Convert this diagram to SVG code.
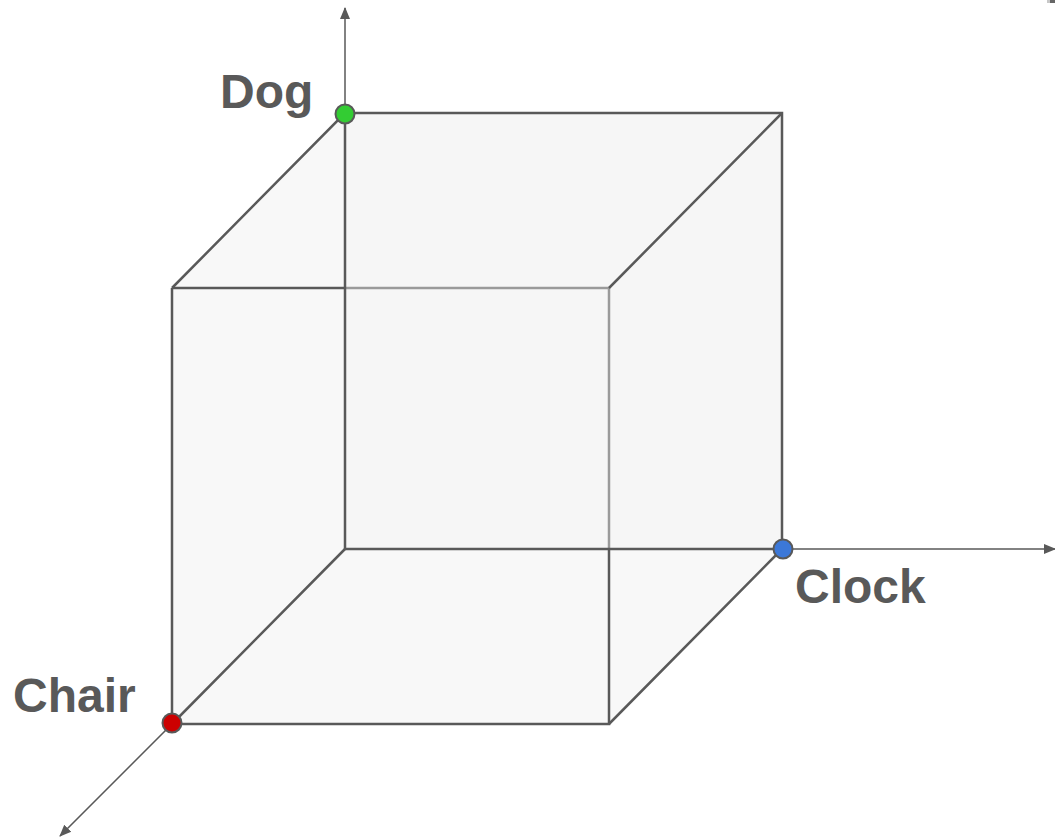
<svg xmlns="http://www.w3.org/2000/svg" width="1055" height="840" viewBox="0 0 1055 840">
  <style>
    .face { fill: #f8f8f8; stroke: none; }
    .edge { stroke: #595959; stroke-width: 2.5; fill: none; }
    .inner { stroke: #9a9a9a; stroke-width: 2.5; fill: none; }
    .axis { stroke: #595959; stroke-width: 1.5; fill: none; }
    .label { font-family: "Liberation Sans", Arial, sans-serif; font-weight: bold; font-size: 48px; fill: #595959; }
    .dot { stroke: #595959; stroke-width: 2; }
  </style>
  <defs>
    <marker id="arrow" viewBox="0 0 12 12" refX="11" refY="6" markerWidth="12" markerHeight="12" markerUnits="userSpaceOnUse" orient="auto">
      <path d="M0,1 L12,6 L0,11 z" fill="#595959"/>
    </marker>
  </defs>
  <rect width="1055" height="840" fill="#ffffff"/>
  <g id="cube">
    <polygon class="face" points="172,288 345,113 782,113 782,549 609,724 172,724"/>
    <rect x="345" y="113" width="437" height="436" fill="#f3f3f3" opacity="0.5"/>
    <path class="inner" d="M345,288 L609,288 L609,549"/>
    <path class="edge" d="M172,288 L345,288 M172,288 L172,724 L609,724 L609,549"/>
    <path class="edge" d="M172,288 L345,113 L782,113 L782,549 L345,549 L345,113"/>
    <path class="edge" d="M609,288 L782,113 M609,724 L782,549 M172,724 L345,549"/>
  </g>
  <g id="connectors">
    <line class="axis" x1="345" y1="113" x2="345" y2="8" marker-end="url(#arrow)"/>
    <line class="axis" x1="782" y1="549" x2="1055" y2="549" marker-end="url(#arrow)"/>
    <line class="axis" x1="172" y1="724" x2="60" y2="836" marker-end="url(#arrow)"/>
  </g>
  <rect x="1047" y="0" width="3" height="3" fill="#c8c8c8"/>
  <rect x="1050" y="0" width="5" height="3" fill="#666666"/>
  <g id="dog">
    <circle class="dot" cx="345" cy="114" r="9.5" fill="#33cc33"/>
    <text class="label" x="220" y="108">Dog</text>
  </g>
  <g id="clock">
    <circle class="dot" cx="783" cy="549" r="9.5" fill="#3c78d8"/>
    <text class="label" x="795" y="603">Clock</text>
  </g>
  <g id="chair">
    <circle class="dot" cx="172" cy="723" r="9.5" fill="#cc0000"/>
    <text class="label" x="13" y="712">Chair</text>
  </g>
</svg>
